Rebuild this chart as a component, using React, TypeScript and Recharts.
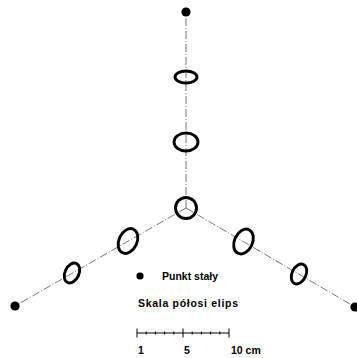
import React from 'react';
import { ScatterChart, Scatter, XAxis, YAxis, ReferenceLine, Customized } from 'recharts';

// Network coordinates (local units)
const fixedNames = ['P1', 'P2', 'P3'];
const fixedX = [0, -171, 169];
const fixedY = [196, -98, -99];

const centerName = 'C';
const centerX = 0;
const centerY = 0;

// Error ellipses
const ellipseX = [0, 0, 0, -58, -114, 57.5, 113];
const ellipseY = [131, 66, 0, -33, -65, -33.5, -66];
const semiMajor = [11, 12, 10.5, 13, 10.5, 13, 10.5];
const semiMinor = [6, 9, 10.5, 9, 7, 9, 7];
const orientationDeg = [0, 0, 0, 65, 65, 65, 65];

const legendLabels = ['Punkt stały', 'Skala półosi elips'];
const scaleLabels = ['1', '5', '10 cm'];
const scaleDivisions = 10;

const fixedData = fixedX.map((x, i) => ({ name: fixedNames[i], x, y: fixedY[i] }));
const ellipseData = ellipseX.map((x, i) => ({
  x,
  y: ellipseY[i],
  a: semiMajor[i],
  b: semiMinor[i],
  t: orientationDeg[i],
}));

const W = 357;
const H = 358;

const EllipseShape = (props: any) => {
  const { cx, cy, payload } = props;
  if (cx == null || cy == null) return null;
  return (
    <ellipse
      cx={cx}
      cy={cy}
      rx={payload.a}
      ry={payload.b}
      transform={`rotate(${-payload.t} ${cx} ${cy})`}
      fill="none"
      stroke="#000"
      strokeWidth={2.9}
    />
  );
};

const DotShape = (props: any) => {
  const { cx, cy } = props;
  if (cx == null || cy == null) return null;
  return <circle cx={cx} cy={cy} r={4.6} fill="#000" />;
};

const LegendBlock = () => {
  const font = { fontFamily: '"Liberation Sans", Arial, sans-serif', fontWeight: 700, fontSize: 10.5, fill: '#000' } as any;
  const x0 = 137;
  const x1 = 229;
  const yb = 333;
  const step = (x1 - x0) / scaleDivisions;
  const ticks = Array.from({ length: scaleDivisions + 1 }, (_, i) => i);
  return (
    <g>
      <circle cx={140} cy={276} r={3.6} fill="#000" />
      <text x={162} y={280} {...font}>{legendLabels[0]}</text>
      <text x={138} y={307} {...font} letterSpacing={0.7}>{legendLabels[1]}</text>
      <line x1={x0} y1={yb} x2={x1} y2={yb} stroke="#000" strokeWidth={1} />
      {ticks.map((i) => {
        const major = i === 0 || i === 5 || i === 10;
        const h = major ? 4.5 : 1.5;
        return (
          <line key={i} x1={x0 + i * step} y1={yb - h} x2={x0 + i * step} y2={yb + h} stroke="#000" strokeWidth={1} />
        );
      })}
      <text x={x0 + 4} y={354} {...font} textAnchor="middle">{scaleLabels[0]}</text>
      <text x={x0 + 5 * step + 4} y={354} {...font} textAnchor="middle">{scaleLabels[1]}</text>
      <text x={x1 + 2} y={354} {...font}>{scaleLabels[2]}</text>
    </g>
  );
};

export default function App() {
  return (
    <div style={{ position: 'absolute', left: 0, top: 0, width: W, height: H, background: '#fff' }}>
      <ScatterChart width={W} height={H} margin={{ top: 0, right: 0, bottom: 0, left: 0 }}>
        <XAxis type="number" dataKey="x" domain={[-186, 171]} allowDataOverflow hide />
        <YAxis type="number" dataKey="y" domain={[-150, 208]} allowDataOverflow hide />
        {fixedData.map((p) => (
          <ReferenceLine
            key={p.name}
            segment={[{ x: centerX, y: centerY }, { x: p.x, y: p.y }]}
            stroke="#777"
            strokeWidth={1}
            strokeDasharray="8 2 1 2"
            ifOverflow="visible"
          />
        ))}
        <Scatter data={ellipseData} shape={EllipseShape} isAnimationActive={false} />
        <Scatter data={fixedData} shape={DotShape} isAnimationActive={false} />
        <Customized component={LegendBlock} />
      </ScatterChart>
    </div>
  );
}
